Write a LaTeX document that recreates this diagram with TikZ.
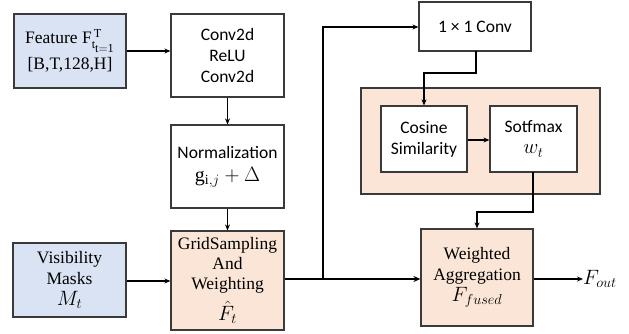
\documentclass[tikz,border=0pt]{standalone}
\usepackage{fontspec}
\setmainfont{Liberation Serif}
\newfontfamily\calib{Carlito}
\usepackage{amsmath}
\usepackage{tikz}
\usetikzlibrary{arrows.meta}

\definecolor{inblue}{HTML}{DAE3F3}
\definecolor{peach}{HTML}{FBE5D6}
\definecolor{edge}{HTML}{3A3A3A}

\newcommand{\bigmath}[1]{{\fontsize{20}{21}\selectfont$#1$}}

\tikzset{
  block/.style={rectangle, draw=edge, line width=1.2pt, align=center,
    inner sep=0pt, font=\fontsize{17.5}{21}\selectfont},
  sansblock/.style={block, font=\calib\fontsize{17.5}{21}\selectfont},
  link/.style={line width=1.4pt, -{Stealth[length=6pt,width=5pt]}},
  thicklink/.style={line width=2.2pt, -{Stealth[length=7pt,width=6pt]}},
}

\begin{document}
\begin{tikzpicture}[x=1pt,y=-1pt]
\useasboundingbox (0,0) rectangle (629,334);

% inputs
\node[block,
    fill = inblue,
    minimum width = 112pt,
    minimum height = 74pt] (feat) at (70,51)
    {Feature F$_{\scriptstyle\mathrm{t}_{\scriptstyle\mathrm{t=1}}}^{\,\scriptstyle\mathrm{T}}$\\[5pt]{}[B,T,128,H]};

\node[block,
    fill = inblue,
    minimum width = 113pt,
    minimum height = 74pt] (vis) at (69.5,280)
    {Visibility\\Masks\\\bigmath{M_t}};

% offset branch
\node[sansblock,
    fill = white,
    minimum width = 113pt,
    minimum height = 83pt] (conv) at (227.5,55.5)
    {Conv2d\\ReLU\\Conv2d};

\node[sansblock,
    fill = white,
    minimum width = 113pt,
    minimum height = 83pt] (norm) at (227.5,166.5)
    {Normalization\\[2pt]\bigmath{\mathrm{g}_{\mathrm{i},j}+\Delta}};

\node[block,
    fill = peach,
    font = \fontsize{17.5}{20}\selectfont,
    minimum width = 113pt,
    minimum height = 99pt] (grid) at (227.5,280.5)
    {GridSampling\\And\\Weighting\\[7pt]\bigmath{\hat{F}_t}};

% weight branch
\node[sansblock,
    fill = white,
    minimum width = 112pt,
    minimum height = 49pt] (onebyone) at (475,26.5)
    {1 × 1 Conv};

\node[rectangle,
    draw = edge,
    line width = 1.2pt,
    fill = peach,
    minimum width = 239pt,
    minimum height = 106pt] (attn) at (480.5,141) {};

\node[sansblock,
    fill = white,
    minimum width = 86pt,
    minimum height = 66pt] (cosine) at (424,139)
    {Cosine\\Similarity};

\node[sansblock,
    fill = white,
    minimum width = 87pt,
    minimum height = 66pt] (softmax) at (533.5,139)
    {Sotfmax\\\bigmath{w_t}};

% output
\node[block,
    fill = peach,
    minimum width = 112pt,
    minimum height = 97pt] (wagg) at (477,277.5)
    {Weighted\\Aggregation\\\bigmath{F_{fused}}};

\node[anchor=west, inner sep=0pt] (fout) at (583,279) {\bigmath{F_{out}}};

% connections
\draw[link] (feat.east |- 0,51) -- (conv.west |- 0,51);
\draw[link] (conv.south) -- (norm.north);
\draw[link] (norm.south) -- (grid.north);
\draw[link] (vis.east |- 0,281) -- (grid.west |- 0,281);
\coordinate (split) at (323,279);
\draw[thicklink] (grid.east |- split) -- (wagg.west |- split);
\draw[link] (split) -- (323,27) -- (onebyone.west |- 0,27);
\draw[link] (476,51) -- (476,73) -- (424,73) -- (cosine.north);
\draw[link] (cosine.east |- 0,140) -- (softmax.west |- 0,140);
\draw[link] (533,172) -- (533,212) -- (477,212) -- (wagg.north -| 477,0);
\draw[link] (wagg.east |- fout) -- (fout.west);

\end{tikzpicture}
\end{document}
